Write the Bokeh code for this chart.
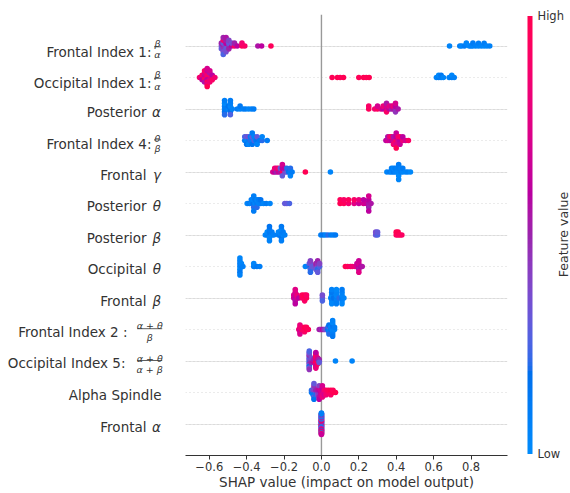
import numpy as np
from bokeh.plotting import figure
from bokeh.layouts import row
from bokeh.core.properties import value
from bokeh.models import (ColumnDataSource, LinearColorMapper, ColorBar, FixedTicker,
                          Range1d, Span, Grid)
from bokeh.embed import file_html
from bokeh.resources import INLINE

# ---------------- data ----------------
features = ["Frontal Index 1", "Occipital Index 1", "Posterior α", "Frontal Index 4",
            "Frontal γ", "Posterior θ", "Posterior β", "Occipital θ", "Frontal β",
            "Frontal Index 2", "Occipital Index 5", "Alpha Spindle", "Frontal α"]

shap_fi1 = [-0.535, -0.535, -0.535, -0.525, -0.525, -0.525, -0.525, -0.525, -0.525, -0.525,
            -0.51, -0.51, -0.51, -0.51, -0.51, -0.51, -0.495, -0.495, -0.495, -0.495,
            -0.48, -0.48, -0.465, -0.465, -0.45, -0.425, -0.425, -0.41, -0.34, -0.32, -0.27,
            0.685, 0.74, 0.75, 0.765, 0.775, 0.79, 0.80, 0.81, 0.81, 0.825, 0.84, 0.84,
            0.855, 0.87, 0.87, 0.885, 0.90]
feat_fi1 = [0.35, 0.5, 0.3, 0.55, 0.3, 0.45, 0.85, 0.35, 0.5, 0.25,
            0.4, 0.6, 0.3, 0.5, 0.35, 0.55, 0.45, 0.3, 0.5, 0.4,
            0.6, 0.35, 0.9, 0.5, 0.6, 0.95, 0.85, 0.9, 0.55, 0.6, 0.95,
            0.05, 0.08, 0.03, 0.1, 0.05, 0.02, 0.07, 0.04, 0.1, 0.06, 0.03, 0.08,
            0.05, 0.02, 0.09, 0.04, 0.06]

shap_oi1 = [-0.652, -0.638, -0.638, -0.638,
            -0.625, -0.625, -0.625, -0.625, -0.625, -0.625,
            -0.611, -0.611, -0.611, -0.611, -0.611, -0.611, -0.611, -0.611, -0.611,
            -0.597, -0.597, -0.597, -0.597, -0.597, -0.597,
            -0.584, -0.584, -0.584, -0.57,
            0.057, 0.085, 0.10, 0.118, 0.20, 0.225, 0.24, 0.255,
            0.615, 0.627, 0.627, 0.64, 0.64, 0.652, 0.683, 0.697, 0.697, 0.71]
feat_oi1 = [0.85, 0.7, 0.9, 0.6,
            0.8, 0.65, 0.95, 0.7, 0.55, 0.9,
            0.75, 0.9, 0.6, 0.85, 0.95, 0.65, 0.8, 0.7, 1.0,
            0.6, 0.9, 0.75, 0.55, 0.85, 0.7,
            0.7, 0.6, 0.9, 0.85,
            0.97, 1.0, 0.95, 0.98, 0.96, 1.0, 0.97, 0.99,
            0.05, 0.1, 0.02, 0.08, 0.12, 0.04, 0.06, 0.1, 0.03, 0.07]

shap_pa = [-0.518, -0.518, -0.518, -0.518, -0.518, -0.518, -0.508, -0.497, -0.497,
           -0.487, -0.487, -0.487, -0.487, -0.487, -0.487, -0.477, -0.45, -0.435, -0.435,
           -0.418, -0.405, -0.39, -0.375, -0.362,
           0.253, 0.253, 0.285, 0.30, 0.30, 0.318, 0.33, 0.33, 0.348, 0.348, 0.348, 0.348,
           0.362, 0.362, 0.375, 0.375, 0.385, 0.385, 0.396, 0.396, 0.396, 0.396, 0.41]
feat_pa = [0.05, 0.1, 0.15, 0.02, 0.2, 0.08, 0.1, 0.05, 0.15,
           0.12, 0.03, 0.18, 0.08, 0.25, 0.1, 0.06, 0.1, 0.05, 0.12,
           0.08, 0.1, 0.04, 0.07, 0.1,
           0.95, 0.9, 0.85, 0.95, 0.7, 0.75, 0.6, 0.8, 0.6, 0.7, 0.9, 0.55,
           0.6, 0.75, 0.5, 0.7, 0.55, 0.8, 0.5, 0.6, 0.45, 0.7, 0.55]

shap_fi4 = [-0.41, -0.41, -0.40, -0.40, -0.40, -0.39, -0.39, -0.39, -0.38, -0.38,
            -0.37, -0.37, -0.37, -0.37, -0.36, -0.36, -0.35, -0.344, -0.344, -0.344,
            -0.33, -0.317, -0.317, -0.29,
            0.345, 0.355, 0.355, 0.365, 0.365, 0.375, 0.375, 0.385, 0.385, 0.385,
            0.40, 0.40, 0.40, 0.40, 0.40, 0.41, 0.41, 0.42, 0.42, 0.42, 0.435, 0.435,
            0.45, 0.465]
feat_fi4 = [0.1, 0.25, 0.05, 0.3, 0.15, 0.1, 0.35, 0.05, 0.2, 0.1,
            0.05, 0.3, 0.15, 0.1, 0.25, 0.05, 0.1, 0.15, 0.3, 0.05,
            0.1, 0.2, 0.05, 0.1,
            0.6, 0.7, 0.55, 0.65, 0.8, 0.6, 0.9, 0.7, 0.55, 0.85,
            0.95, 0.6, 0.75, 0.65, 1.0, 0.7, 0.85, 0.6, 0.9, 0.65, 0.8, 0.6,
            0.7, 0.9]

shap_fg = [-0.26, -0.25, -0.25, -0.24, -0.24, -0.23, -0.23, -0.22, -0.22,
           -0.209, -0.209, -0.209, -0.209, -0.195, -0.195, -0.185, -0.185, -0.175,
           -0.166, -0.166, -0.166, -0.157,
           -0.086, 0.048,
           0.35, 0.365, 0.375, 0.375, 0.385, 0.385, 0.395, 0.395, 0.405, 0.405,
           0.413, 0.413, 0.413, 0.413, 0.413, 0.425, 0.425, 0.435, 0.435, 0.45, 0.462, 0.476]
feat_fg = [0.7, 0.6, 0.85, 0.5, 0.75, 0.65, 0.9, 0.55, 0.3,
           0.9, 0.6, 0.3, 0.7, 0.35, 0.6, 0.3, 0.2, 0.15,
           0.1, 0.2, 0.05, 0.1,
           0.98, 0.05,
           0.05, 0.1, 0.02, 0.08, 0.12, 0.04, 0.06, 0.1, 0.03, 0.07,
           0.05, 0.09, 0.02, 0.1, 0.04, 0.08, 0.06, 0.03, 0.1, 0.05, 0.07, 0.02]

shap_pt = [-0.397, -0.385, -0.375, -0.375, -0.368, -0.368, -0.362, -0.362, -0.362, -0.362, -0.362,
           -0.355, -0.355, -0.345, -0.345, -0.345, -0.335, -0.335, -0.325, -0.325,
           -0.31, -0.295, -0.275,
           -0.196, -0.185, -0.171,
           0.10, 0.10, 0.12, 0.12, 0.145, 0.145, 0.175, 0.175, 0.20, 0.20, 0.225, 0.225,
           0.24, 0.253, 0.253, 0.253, 0.253, 0.253, 0.265]
feat_pt = [0.05, 0.1, 0.02, 0.08, 0.1, 0.05, 0.15, 0.03, 0.2, 0.08, 0.1,
           0.05, 0.12, 0.1, 0.04, 0.2, 0.06, 0.1, 0.08, 0.15,
           0.05, 0.1, 0.05,
           0.3, 0.3, 0.25,
           0.98, 0.95, 0.95, 0.9, 0.85, 0.95, 0.75, 0.9, 0.65, 0.8, 0.7, 0.6,
           0.65, 0.55, 0.6, 0.5, 0.7, 0.6, 0.55]

shap_pb = [-0.30, -0.29, -0.29, -0.278, -0.278, -0.278, -0.278, -0.278, -0.278,
           -0.265, -0.265, -0.255, -0.23, -0.23, -0.222, -0.222,
           -0.214, -0.214, -0.214, -0.214, -0.214, -0.214, -0.205, -0.205, -0.196,
           -0.003, 0.01, 0.022, 0.035, 0.05, 0.063, 0.075,
           0.29, 0.29, 0.30, 0.30,
           0.40, 0.40, 0.41, 0.41, 0.42, 0.43]
feat_pb = [0.05, 0.1, 0.02, 0.08, 0.12, 0.04, 0.1, 0.06, 0.15,
           0.05, 0.1, 0.08, 0.1, 0.05, 0.12, 0.03,
           0.06, 0.1, 0.15, 0.02, 0.08, 0.12, 0.05, 0.1, 0.07,
           0.1, 0.15, 0.05, 0.2, 0.1, 0.08, 0.12,
           0.3, 0.35, 0.25, 0.3,
           0.95, 0.98, 0.9, 1.0, 0.95, 0.92]

shap_ot = [-0.436, -0.436, -0.436, -0.436, -0.436, -0.436, -0.436, -0.428, -0.428, -0.42,
           -0.362, -0.362, -0.345, -0.33,
           -0.086, -0.065, -0.065, -0.059, -0.059, -0.059, -0.059, -0.059, -0.05,
           -0.03, -0.03, -0.03, -0.02, -0.02, -0.02, -0.02, -0.02, -0.01, -0.01,
           0.128, 0.14, 0.155, 0.165, 0.18, 0.19, 0.19, 0.20, 0.20, 0.20, 0.20, 0.20,
           0.21, 0.218]
feat_ot = [0.05, 0.1, 0.02, 0.08, 0.12, 0.04, 0.06, 0.1, 0.05, 0.08,
           0.1, 0.05, 0.12, 0.08,
           0.05, 0.2, 0.3, 0.15, 0.35, 0.25, 0.4, 0.2, 0.3,
           0.4, 0.5, 0.3, 0.35, 0.45, 0.2, 0.5, 0.3, 0.25, 0.4,
           0.98, 0.95, 0.9, 0.85, 0.8, 0.7, 0.65, 0.6, 0.7, 0.55, 0.65, 0.75,
           0.6, 0.55]

shap_fb = [-0.148, -0.148, -0.14, -0.14, -0.14, -0.14, -0.14, -0.14, -0.13, -0.13, -0.121,
           -0.103, -0.103, -0.09, -0.09, -0.09, -0.08, -0.08,
           0.005, 0.005, 0.005,
           0.05, 0.055, 0.055, 0.055, 0.055, 0.055, 0.055, 0.065,
           0.08, 0.08, 0.08, 0.08, 0.08, 0.08, 0.095,
           0.11, 0.11, 0.11, 0.11, 0.11, 0.11, 0.12]
feat_fb = [0.65, 0.7, 0.6, 0.65, 0.55, 0.7, 0.6, 0.75, 0.7, 0.8, 0.6,
           0.9, 0.95, 0.95, 1.0, 0.9, 0.98, 0.9,
           0.3, 0.35, 0.25,
           0.05, 0.1, 0.02, 0.08, 0.12, 0.04, 0.06, 0.15,
           0.1, 0.03, 0.07, 0.05, 0.09, 0.02, 0.2,
           0.1, 0.04, 0.08, 0.06, 0.03, 0.1, 0.05]

shap_fi2 = [-0.121, -0.115, -0.115, -0.115, -0.115, -0.115, -0.105, -0.105,
            -0.09, -0.09, -0.09, -0.08, -0.08, -0.07,
            -0.012, -0.006, 0.0, 0.006, 0.012, 0.018, 0.024, 0.03,
            0.035, 0.035, 0.04, 0.04, 0.04, 0.04, 0.04, 0.05, 0.05,
            0.06, 0.06, 0.06, 0.06, 0.06, 0.06, 0.06, 0.06, 0.07, 0.07]
feat_fi2 = [0.8, 0.75, 0.85, 0.7, 0.8, 0.72, 0.9, 0.85,
            0.95, 0.98, 0.9, 1.0, 0.95, 0.95,
            0.5, 0.55, 0.45, 0.6, 0.5, 0.4, 0.35, 0.3,
            0.15, 0.2, 0.1, 0.25, 0.05, 0.15, 0.2, 0.1, 0.05,
            0.02, 0.1, 0.05, 0.15, 0.08, 0.03, 0.12, 0.06, 0.05, 0.1]

shap_oi5 = [-0.065, -0.065, -0.065, -0.065, -0.065, -0.065, -0.065, -0.065, -0.065, -0.065,
            -0.065, -0.065, -0.065, -0.065, -0.055, -0.055, -0.055, -0.055,
            -0.045, -0.045, -0.04, -0.04,
            -0.03, -0.03, -0.03, -0.03, -0.03, -0.03, -0.03, -0.03, -0.03, -0.03, -0.03, -0.03,
            -0.02, -0.02, -0.02, -0.02, -0.02, -0.012, -0.012, -0.012,
            0.075, 0.164]
feat_oi5 = [0.3, 0.4, 0.2, 0.35, 0.45, 0.25, 0.3, 0.5, 0.15, 0.4,
            0.35, 0.3, 0.45, 0.25, 0.3, 0.4, 0.5, 0.35,
            0.6, 0.4, 0.7, 0.5,
            0.95, 0.8, 1.0, 0.7, 0.9, 0.85, 0.75, 0.95, 0.65, 0.9, 0.8, 0.6,
            0.9, 0.6, 0.85, 0.7, 0.95, 0.1, 0.5, 0.3,
            0.05, 0.05]

shap_as = [-0.053, -0.053, -0.045, -0.045, -0.045,
           -0.04, -0.04, -0.04, -0.04, -0.04, -0.04, -0.04, -0.04,
           -0.03, -0.03, -0.03, -0.02, -0.02, -0.02,
           -0.012, -0.012, -0.012, -0.012, -0.012, -0.012, -0.012,
           -0.003, -0.003, -0.003, 0.005, 0.005, 0.005, 0.005, 0.005, 0.005,
           0.015, 0.015, 0.015, 0.025, 0.025, 0.025, 0.037, 0.037,
           0.05, 0.05, 0.05, 0.062, 0.062, 0.075]
feat_as = [0.1, 0.2, 0.15, 0.3, 0.05,
           0.2, 0.4, 0.1, 0.35, 0.25, 0.45, 0.15, 0.3,
           0.3, 0.5, 0.2, 0.45, 0.55, 0.35,
           0.5, 0.6, 0.45, 0.65, 0.55, 0.4, 0.6,
           0.6, 0.7, 0.65, 0.7, 0.65, 0.75, 0.6, 0.8, 0.7,
           0.75, 0.85, 0.7, 0.8, 0.9, 0.85, 0.9, 0.95,
           0.95, 1.0, 0.9, 0.98, 0.95, 1.0]

shap_fa = [0.0, 0.0, 0.0, 0.0, 0.0, 0.0, 0.0, 0.0, 0.0, 0.0, 0.0, 0.0, 0.0, 0.0, 0.0, 0.0,
           0.0, 0.0, 0.0, 0.0, 0.0, 0.0, 0.0, 0.0, 0.0, 0.0, 0.0, 0.0, 0.0, 0.0, 0.0, 0.0,
           0.0, 0.0, 0.0, 0.0, 0.0, 0.0, 0.0, 0.0, 0.0, 0.0, 0.0, 0.0, 0.0, 0.0]
feat_fa = [0.1, 0.9, 0.4, 0.05, 0.7, 0.3, 0.95, 0.15, 0.6, 0.2, 0.85, 0.5, 0.08, 0.75, 0.35, 1.0,
           0.12, 0.55, 0.25, 0.9, 0.45, 0.03, 0.8, 0.3, 0.65, 0.1, 0.95, 0.4, 0.18, 0.7, 0.5, 0.02,
           0.85, 0.22, 0.6, 0.1, 0.9, 0.35, 0.05, 0.75, 0.45, 0.15, 0.95, 0.28, 0.65, 0.08]

row_shap = [shap_fi1, shap_oi1, shap_pa, shap_fi4, shap_fg, shap_pt, shap_pb, shap_ot,
            shap_fb, shap_fi2, shap_oi5, shap_as, shap_fa]
row_feat = [feat_fi1, feat_oi1, feat_pa, feat_fi4, feat_fg, feat_pt, feat_pb, feat_ot,
            feat_fb, feat_fi2, feat_oi5, feat_as, feat_fa]

xticks = [-0.6, -0.4, -0.2, 0.0, 0.2, 0.4, 0.6, 0.8]
xtick_labels = ["\u22120.6", "\u22120.4", "\u22120.2", "0.0", "0.2", "0.4", "0.6", "0.8"]
cbar_ticks = [0, 1]
cbar_tick_labels = ["Low", "High"]
cbar_title = "Feature value"

# ---------------- SHAP red-blue colormap (LCh interpolation) ----------------
def lch2rgb(L, C, h):
    a = C * np.cos(h)
    b = C * np.sin(h)
    fy = (L + 16.0) / 116.0
    fx = fy + a / 500.0
    fz = fy - b / 200.0

    def finv(t):
        t3 = t ** 3
        return t3 if t3 > 0.008856 else (t - 16.0 / 116.0) / 7.787
    X, Y, Z = 0.95047 * finv(fx), 1.0 * finv(fy), 1.08883 * finv(fz)
    M = np.array([[3.2404542, -1.5371385, -0.4985314],
                  [-0.9692660, 1.8760108, 0.0415560],
                  [0.0556434, -0.2040259, 1.0572252]])
    rgb = M @ np.array([X, Y, Z])
    rgb = np.where(rgb > 0.0031308, 1.055 * np.power(np.clip(rgb, 1e-9, None), 1 / 2.4) - 0.055,
                   12.92 * rgb)
    return np.clip(rgb, 0, 1)

nsteps = 100
blue_lch = [54.0, 70.0, 4.6588]
red_lch = [54.0, 90.0, 0.35470565 + 2 * np.pi]
l_mid = 40.0
l_vals = list(np.linspace(blue_lch[0], l_mid, nsteps // 2)) + list(np.linspace(l_mid, red_lch[0], nsteps // 2))
c_vals = np.linspace(blue_lch[1], red_lch[1], nsteps)
h_vals = np.linspace(blue_lch[2], red_lch[2], nsteps)
palette = []
for L_, C_, H_ in zip(l_vals, c_vals, h_vals):
    r_, g_, b_ = lch2rgb(L_, C_, H_)
    palette.append("#%02x%02x%02x" % (int(round(r_ * 255)), int(round(g_ * 255)), int(round(b_ * 255))))
mapper = LinearColorMapper(palette=palette, low=0, high=1)

# ---------------- beeswarm layout (SHAP algorithm) ----------------
def swarm_offsets(vals):
    v = np.asarray(vals, dtype=float)
    n = len(v)
    rng = v.max() - v.min()
    quant = np.round(100 * (v - v.min()) / (rng + 1e-8))
    inds = np.argsort(quant, kind="stable")
    ys = np.zeros(n)
    layer = 0
    last = None
    for i in inds:
        if quant[i] != last:
            layer = 0
        ys[i] = np.ceil(layer / 2) * ((layer % 2) * 2 - 1)
        layer += 1
        last = quant[i]
    ys *= 0.9 * (0.4 / np.max(ys + 1))
    return ys

nrows = len(features)
xs, ys, cs = [], [], []
for k in range(nrows):
    sv, fv = row_shap[k], row_feat[k]
    if len(sv) != len(fv):
        raise ValueError("length mismatch in row %s: %d vs %d" % (features[k], len(sv), len(fv)))
    pos = nrows - 1 - k
    off = swarm_offsets(sv)
    xs += list(sv)
    ys += list(pos + off)
    cs += list(fv)
src = ColumnDataSource(dict(x=xs, y=ys, c=cs))

# ---------------- layout constants ----------------
FONT = "DejaVu Sans"
TXT = "#333333"
LEFT_W = 185      # width of label panel (px)
FT = 14           # frame top (px)
FH = 441          # frame height (px)
FB = 38           # bottom border (px)
FW = 322          # frame width (px)
RIGHT_GAP = 26    # main figure border right of frame (px)
TOTAL_W = 570
ROW_PX = FH / (nrows + 1)
SHIFT = -4.5      # global vertical correction of label text (px, + = down)
BAR_X = 342       # colour bar left edge, relative to main frame (px)

def ydata(px):
    return nrows - (px - FT) / ROW_PX

# ---------------- main figure ----------------
p = figure(frame_width=FW, frame_height=FH, min_border_left=0, min_border_right=RIGHT_GAP,
           min_border_top=FT, min_border_bottom=FB, title=None,
           x_range=Range1d(-0.727, 0.995), y_range=Range1d(-1, nrows),
           y_axis_location=None, output_backend="svg", toolbar_location=None)
p.outline_line_color = None
p.background_fill_color = "white"
p.border_fill_color = "white"
p.xgrid.visible = False

ygrid = Grid(dimension=1, ticker=FixedTicker(ticks=list(range(nrows))),
             grid_line_color="#cccccc", grid_line_width=0.8, grid_line_dash="1 3")
p.add_layout(ygrid)

zero = Span(location=0, dimension="height", line_color="#999999", line_width=1.4, level="underlay")
p.add_layout(zero)

p.scatter("x", "y", source=src, size=5.6, line_color=None,
          fill_color={"field": "c", "transform": mapper})

ax = p.xaxis[0]
ax.ticker = FixedTicker(ticks=xticks)
ax.major_label_overrides = {t: l for t, l in zip(xticks, xtick_labels)}
ax.minor_tick_line_color = None
ax.major_tick_in = 0
ax.major_tick_out = 4
ax.axis_line_color = TXT
ax.major_tick_line_color = TXT
ax.major_label_text_font = FONT
ax.major_label_text_font_size = "11.5px"
ax.major_label_text_color = TXT
ax.major_label_standoff = 2
ax.axis_label = "SHAP value (impact on model output)"
ax.axis_label_text_font = FONT
ax.axis_label_text_font_size = "13.5px"
ax.axis_label_text_font_style = "normal"
ax.axis_label_text_color = TXT
ax.axis_label_standoff = 0

# visible colour bar (no labels; those live in the right-hand panel)
cb = ColorBar(color_mapper=mapper, ticker=FixedTicker(ticks=[]),
              width=5, height=438, padding=0, location=(BAR_X, 1.5),
              major_tick_line_color=None, minor_tick_line_color=None,
              bar_line_color=None, border_line_color=None, background_fill_color=None)
p.add_layout(cb)

# ---------------- label panel (feature names) ----------------
q = figure(frame_width=LEFT_W, frame_height=FH, min_border_left=0, min_border_right=0,
           min_border_top=FT, min_border_bottom=FB, title=None,
           x_range=Range1d(0, LEFT_W), y_range=Range1d(-1, nrows),
           x_axis_location=None, y_axis_location=None,
           output_backend="svg", toolbar_location=None)
q.outline_line_color = None
q.background_fill_color = "white"
q.border_fill_color = "white"
q.xgrid.visible = False
q.ygrid.visible = False

pos_of = {name: nrows - 1 - i for i, name in enumerate(features)}

texts = {}  # (align, size, style) -> (x, y, text)

def put(x_px, rowpos, dy, text, align="right", size="13.5px", style="normal"):
    key = (align, size, style)
    texts.setdefault(key, ([], [], []))
    texts[key][0].append(x_px)
    texts[key][1].append(rowpos - (dy + SHIFT) / ROW_PX)
    texts[key][2].append(text)

bars_x0, bars_x1, bars_y = [], [], []

def bar(x0, x1, rowpos, dy):
    bars_x0.append(x0)
    bars_x1.append(x1)
    bars_y.append(rowpos - (dy + SHIFT) / ROW_PX)

for name, word, greek in [("Posterior α", "Posterior", "α"), ("Frontal γ", "Frontal", "γ"),
                          ("Posterior θ", "Posterior", "θ"), ("Posterior β", "Posterior", "β"),
                          ("Occipital θ", "Occipital", "θ"), ("Frontal β", "Frontal", "β"),
                          ("Frontal α", "Frontal", "α")]:
    put(146, pos_of[name], 7, word)
    put(160.5, pos_of[name], 7, greek, style="italic")
put(161, pos_of["Alpha Spindle"], 7, "Alpha Spindle")

for name, main, num, den, dmain, dnum, dden, dbar in [
        ("Frontal Index 1", "Frontal Index 1:", "β", "α", 10, 1.7, 13.3, 5.3),
        ("Occipital Index 1", "Occipital Index 1:", "β", "α", 10, 1.7, 13.3, 5.3),
        ("Frontal Index 4", "Frontal Index 4:", "θ", "β", 7.5, 2.2, 12.7, 3.9)]:
    r = pos_of[name]
    put(151, r, dmain, main)
    put(157, r, dnum, num, align="center", size="9.5px", style="italic")
    put(157, r, dden, den, align="center", size="9.5px", style="italic")
    bar(153.5, 160.5, r, dbar)

for name, main, num, den, xr, dmain, dnum, dden, dbar in [
        ("Frontal Index 2", "Frontal Index 2 :", "α + θ", "β", 127, 7.3, 0.8, 12.2, 3.7),
        ("Occipital Index 5", "Occipital Index 5:", "α + θ", "α + β", 125, 6.5, 1.7, 13.0, 4.0)]:
    r = pos_of[name]
    put(xr, r, dmain, main)
    put(149.2, r, dnum, num, align="center", size="9.5px", style="italic")
    put(149.2, r, dden, den, align="center", size="9.5px", style="italic")
    bar(136.7, 161.7, r, dbar)

for (align, size, style), (tx, ty, tt) in texts.items():
    q.text(x=tx, y=ty, text=tt, text_align=align, text_baseline="alphabetic",
           text_font=value(FONT), text_font_size=value(size), text_font_style=style,
           text_color=TXT)
q.segment(x0=bars_x0, y0=bars_y, x1=bars_x1, y1=bars_y, line_color=TXT, line_width=0.8)

# ---------------- right panel: colour-bar tick labels and title ----------------
R_X0 = LEFT_W + FW + RIGHT_GAP
rw = TOTAL_W - R_X0
s = figure(frame_width=rw, frame_height=FH, min_border_left=0, min_border_right=0,
           min_border_top=FT, min_border_bottom=FB, title=None,
           x_range=Range1d(R_X0, TOTAL_W), y_range=Range1d(-1, nrows),
           x_axis_location=None, y_axis_location=None,
           output_backend="svg", toolbar_location=None)
s.outline_line_color = None
s.background_fill_color = "white"
s.border_fill_color = "white"
s.xgrid.visible = False
s.ygrid.visible = False

# same colour bar placed so that its bar falls just left of this panel (off-canvas):
# only its Low/High tick labels show, next to the visible bar of the main figure
cb_lab = ColorBar(color_mapper=mapper, ticker=FixedTicker(ticks=cbar_ticks),
                  major_label_overrides={t: l for t, l in zip(cbar_ticks, cbar_tick_labels)},
                  width=5, height=438, padding=0,
                  location=(LEFT_W + BAR_X - R_X0, 1.5),
                  major_tick_line_color=None, minor_tick_line_color=None,
                  bar_line_color=None, border_line_color=None, background_fill_color=None,
                  label_standoff=5, major_label_text_font=FONT,
                  major_label_text_font_size="11.5px", major_label_text_color=TXT)
s.add_layout(cb_lab)

s.text(x=[563], y=[ydata(234)], text=[cbar_title], angle=np.pi / 2,
       text_align="center", text_baseline="middle", text_font=value(FONT),
       text_font_size=value("12.5px"), text_color=TXT)

layout = row(q, p, s, spacing=0)
open("out.html", "w").write(file_html(layout, INLINE))
